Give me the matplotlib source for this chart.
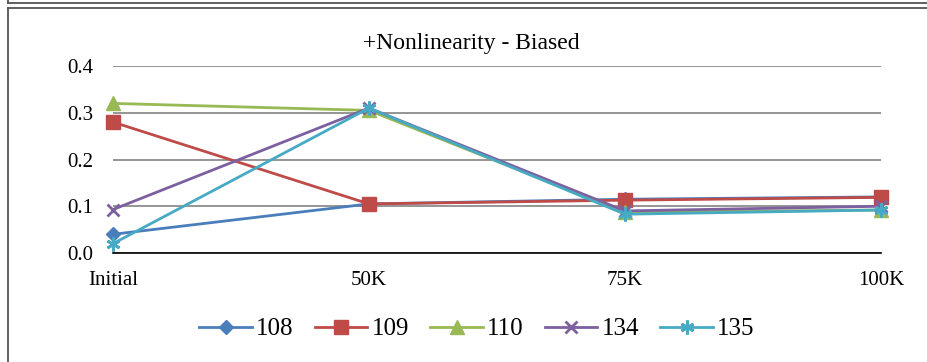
import matplotlib
matplotlib.use("Agg")
import matplotlib.pyplot as plt
from matplotlib.lines import Line2D

plt.rcParams['font.family'] = ['Liberation Serif', 'DejaVu Serif']

categories = ["Initial", "50K", "75K", "100K"]
s108 = [0.040, 0.105, 0.115, 0.120]
s109 = [0.280, 0.105, 0.113, 0.119]
s110 = [0.320, 0.305, 0.087, 0.092]
s134 = [0.093, 0.310, 0.090, 0.100]
s135 = [0.020, 0.310, 0.083, 0.092]
names = ["108", "109", "110", "134", "135"]
series = [s108, s109, s110, s134, s135]
colors = ["#4a7ebb", "#be4b48", "#98b954", "#7d60a0", "#46aac5"]
markers = ["D", "s", "^", "x", "*"]
msizes = [7.5, 10, 10, 9, 10]
yticks = [0.0, 0.1, 0.2, 0.3, 0.4]

W, H = 927, 362
fig = plt.figure(figsize=(W / 100, H / 100), dpi=100)
ax = fig.add_axes([113 / W, 1 - 253 / H, (881 - 113) / W, (253 - 66) / H])


def mk_of(m):
    return (6, 2, 0) if m == "*" else m


x = list(range(len(categories)))
for name, vals, c, m, ms in zip(names, series, colors, markers, msizes):
    ax.plot(x, vals, color=c, lw=2, marker=mk_of(m), markersize=ms,
            markeredgecolor=c, markerfacecolor=c,
            markeredgewidth=2 if m in ("x", "*") else 1, label=name,
            clip_on=False)

ax.set_xlim(0, 3)
ax.set_ylim(0, 0.4)
ax.set_yticks(yticks)
ax.set_yticklabels([f"{v:.1f}" for v in yticks], fontsize=15)
ax.set_xticks(x)
ax.set_xticklabels(categories, fontsize=15)
ax.tick_params(length=0)
ax.tick_params(axis='x', pad=13)
ax.tick_params(axis='y', pad=14)
ax.yaxis.grid(True, color="#8c8c8c", lw=1.3)
ax.set_axisbelow(True)
for sp in ["top", "right", "left"]:
    ax.spines[sp].set_visible(False)
ax.spines["bottom"].set_color("black")
ax.spines["bottom"].set_linewidth(1.2)

fig.text(471 / W, 1 - 43 / H, "+Nonlinearity - Biased", ha="center", va="center", fontsize=17)

handles = [Line2D([], [], color=c, lw=2,
                  marker=mk_of(m), markersize=ms,
                  markeredgecolor=c, markerfacecolor=c,
                  markeredgewidth=2 if m in ("x", "*") else 1)
           for c, m, ms in zip(colors, markers, msizes)]
fig.legend(handles, names, loc="center", bbox_to_anchor=(477 / W, 1 - 329 / H),
           ncol=5, frameon=False, fontsize=18, handlelength=2.1,
           columnspacing=0.85, handletextpad=0.17)

# frame lines
bc = "#555555"
fig.add_artist(Line2D([8 / W, 1], [1 - 3 / H, 1 - 3 / H], color=bc, lw=1.3))
fig.add_artist(Line2D([8 / W, 8 / W], [1, 1 - 3 / H], color=bc, lw=1.3))
fig.add_artist(Line2D([8 / W, 1], [1 - 7.5 / H, 1 - 7.5 / H], color=bc, lw=1.3))
fig.add_artist(Line2D([8 / W, 8 / W], [0, 1 - 7.5 / H], color=bc, lw=1.3))

fig.savefig("out.png", dpi=100)
